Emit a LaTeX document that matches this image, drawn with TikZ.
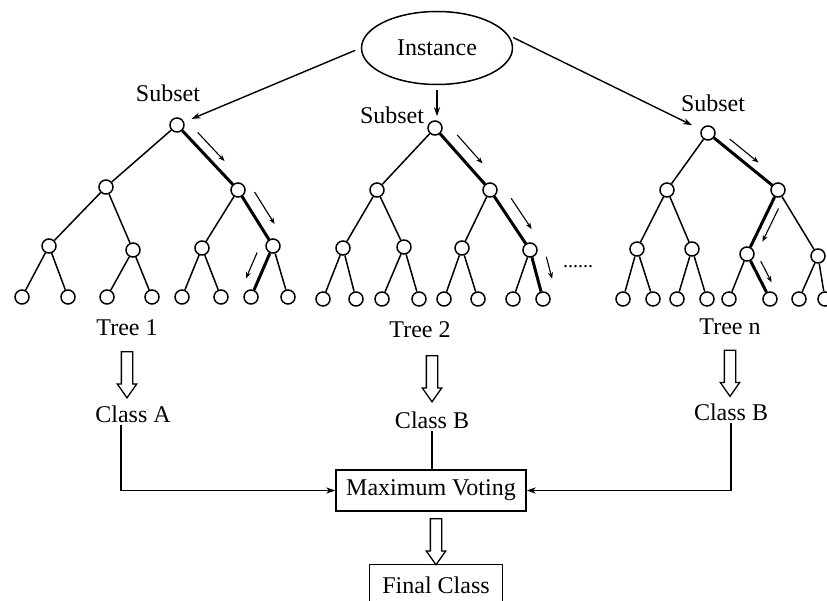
\documentclass[tikz,border=0pt]{standalone}
\usepackage{fontspec}
\setmainfont{Liberation Serif}
\usepackage{tikz}
\usetikzlibrary{shapes.geometric, shapes.arrows, arrows.meta, positioning, calc}
\tikzset{
  dugum/.style={circle, draw, line width=1.5pt, fill=white, minimum size=14pt, inner sep=0pt},
  dal/.style={line width=1.5pt},
  kalin/.style={line width=3pt},
  yon/.style={-{Stealth[length=6.5pt, width=5pt]}, line width=1.1pt},
  yazi/.style={font=\fontsize{24}{28}\selectfont, inner sep=3pt},
  etiket/.style={font=\fontsize{24}{28}\selectfont, inner sep=0pt},
  kutu/.style={rectangle, draw, line width=1.5pt, font=\fontsize{24}{28}\selectfont, minimum height=41pt},
  ok/.style={-{Stealth[length=9pt, width=6pt]}, line width=1.4pt},
  bosok/.style={single arrow, draw, fill=white, line width=1.3pt, rotate=-90, minimum height=46pt, minimum width=18pt,
    single arrow head extend=4pt, single arrow tip angle=70, inner xsep=0pt, inner ysep=5pt},
}
\begin{document}
\begin{tikzpicture}[x=1pt, y=-1pt]
  \useasboundingbox (0,0) rectangle (827,601);
  \clip (0,0) rectangle (827,601);
  \node[ellipse, draw, line width=1.5pt, minimum width=151pt, minimum height=73pt, yazi] (inst) at (437,48) {Instance};
  % Ağaçlar
  \foreach \n/\x/\y in {r/177/125, rL/106/187, rR/238/190, rLL/49/246, rLR/133/250, rRL/202/248, rRR/273/246,
      rLLL/22/297, rLLR/68/297, rLRL/107/297, rLRR/152/297, rRLL/182/297, rRLR/221/297, rRRL/251/297, rRRR/288/297}
    \node[dugum] (t1\n) at (\x,\y) {};
  \foreach \n/\x/\y in {r/435/128, rL/377/190, rR/490/190, rLL/343/248, rLR/404/247, rRL/462/248, rRR/530/250,
      rLLL/323/299, rLLR/356/299, rLRL/382/299, rLRR/419/299, rRLL/444/299, rRLR/478/299, rRRL/513/299, rRRR/543/299}
    \node[dugum] (t2\n) at (\x,\y) {};
  \foreach \n/\x/\y in {r/708/133, rL/667/190, rR/778/190, rLL/637/249, rLR/692/249, rRL/747/254, rRR/818/256,
      rLLL/623/299, rLLR/653/299, rLRL/677/299, rLRR/707/299, rRLL/729/299, rRLR/770/299, rRRL/799/299, rRRR/825/299}
    \node[dugum] (t3\n) at (\x,\y) {};
  \foreach \t in {t1,t2,t3}
    \foreach \a/\b in {r/rL, r/rR, rL/rLL, rL/rLR, rR/rRL, rR/rRR, rLL/rLLL, rLL/rLLR, rLR/rLRL, rLR/rLRR,
        rRL/rRLL, rRL/rRLR, rRR/rRRL, rRR/rRRR}
      \draw[dal] (\t\a) -- (\t\b);
  % Karar yolları
  \draw[kalin] (t1r) -- (t1rR);
  \draw[kalin] (t1rR) -- (t1rRR);
  \draw[kalin] (t1rRR) -- (t1rRRL);
  \draw[kalin] (t2r) -- (t2rR);
  \draw[kalin] (t2rR) -- (t2rRR);
  \draw[kalin] (t2rRR) -- (t2rRRR);
  \draw[kalin] (t3r) -- (t3rR);
  \draw[kalin] (t3rR) -- (t3rRL);
  \draw[kalin] (t3rRL) -- (t3rRLR);
  \draw[yon] ($(t1r)!.22!(t1rR)!10pt!90:(t1rR)$) -- ($(t1r)!.66!(t1rR)!10pt!90:(t1rR)$);
  \draw[yon] ($(t1rR)!.16!(t1rRR)!13pt!90:(t1rRR)$) -- ($(t1rR)!.73!(t1rRR)!13pt!90:(t1rRR)$);
  \draw[yon] ($(t1rRR)!.22!(t1rRRL)!12pt!-90:(t1rRRL)$) -- ($(t1rRR)!.73!(t1rRRL)!12pt!-90:(t1rRRL)$);
  \draw[yon] ($(t2r)!.24!(t2rR)!12pt!90:(t2rR)$) -- ($(t2r)!.70!(t2rR)!12pt!90:(t2rR)$);
  \draw[yon] ($(t2rR)!.26!(t2rRR)!13pt!90:(t2rRR)$) -- ($(t2rR)!.77!(t2rRR)!13pt!90:(t2rRR)$);
  \draw[yon] ($(t2rRR)!.21!(t2rRRR)!14pt!90:(t2rRRR)$) -- ($(t2rRR)!.66!(t2rRRR)!14pt!90:(t2rRRR)$);
  \draw[yon] ($(t3r)!.23!(t3rR)!9pt!90:(t3rR)$) -- ($(t3r)!.64!(t3rR)!9pt!90:(t3rR)$);
  \draw[yon] ($(t3rR)!.23!(t3rRL)!8.5pt!90:(t3rRL)$) -- ($(t3rR)!.75!(t3rRL)!8.5pt!90:(t3rRL)$);
  \draw[yon] ($(t3rRL)!.25!(t3rRLR)!9pt!90:(t3rRLR)$) -- ($(t3rRL)!.72!(t3rRLR)!9pt!90:(t3rRLR)$);
  % Örneklem okları
  \draw[ok, shorten <=6pt, shorten >=8pt] (inst.west) -- (t1r);
  \draw[ok, shorten <=5pt, shorten >=4pt] (inst.south) -- (inst.south |- t2r.north);
  \draw[ok, shorten <=5pt, shorten >=10pt] (inst.10) -- (t3r);
  \node[etiket, above=15pt of t1r, xshift=-9pt] (sub1) {Subset};
  \node[etiket, left=3pt of t2r, yshift=13pt] (sub2) {Subset};
  \node[etiket, above=13pt of t3r, xshift=5pt] (sub3) {Subset};
  \node[etiket, font=\fontsize{20}{24}\selectfont] (dots) at (578,267) {......};
  % Sınıflar
  \node[yazi, anchor=base] (tree1) at (127,336) {Tree 1};
  \node[yazi, anchor=base] (tree2) at (420,338) {Tree 2};
  \node[yazi, anchor=base] (treen) at (730,335) {Tree n};
  \node[yazi, anchor=base] (classA) at (133,422) {Class A};
  \node[yazi, anchor=base] (classB) at (432,428) {Class B};
  \node[yazi, anchor=base] (classBn) at (731,420) {Class B};
  \path (tree1.south) -- node[bosok] {} (tree1.south |- classA.north);
  \path (tree2.south -| classB.north) -- node[bosok] {} (classB.north);
  \path (treen.south) -- node[bosok] {} (treen.south |- classBn.north);
  % Oylama
  \node[kutu, minimum width=190pt] (vote) at (431,490.5) {Maximum Voting};
  \node[kutu, minimum width=133pt, below=52pt of vote, xshift=5pt] (final) {Final Class};
  \draw[ok] ([xshift=-12pt]classA.south) |- (vote.west);
  \draw[dal] (classB.south) -- (classB.south |- vote.north);
  \draw[ok] (classBn.south) |- (vote.east);
  \path (vote.south -| final.north) -- node[bosok] {} (final.north);
\end{tikzpicture}
\end{document}
